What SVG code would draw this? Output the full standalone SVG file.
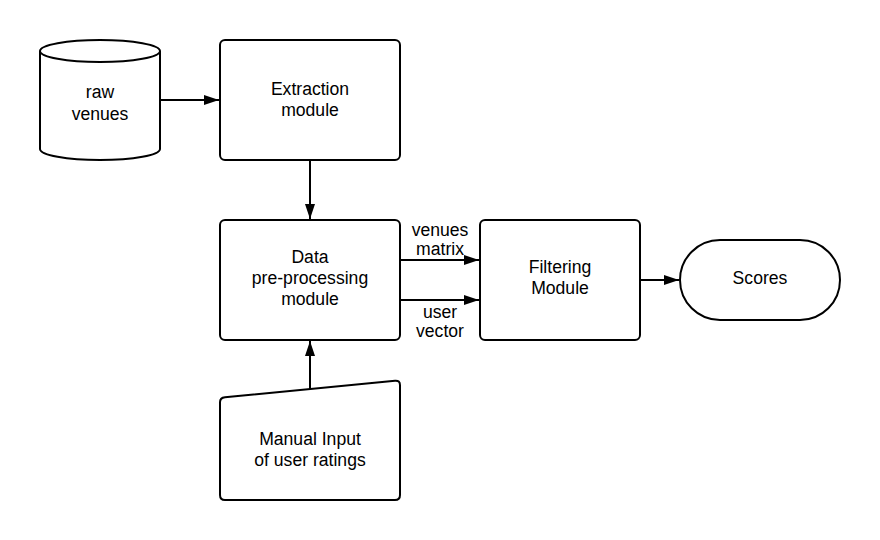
<svg xmlns="http://www.w3.org/2000/svg" width="880" height="540" viewBox="0 0 880 540">
<defs>
<style>
.shape{fill:#fff;stroke:#000;stroke-width:2;}
.edge{fill:none;stroke:#000;stroke-width:2;}
text{font-family:"Liberation Sans",Arial,sans-serif;font-size:17.6px;fill:#000;text-anchor:middle;}
</style>
<marker id="arr" viewBox="0 0 15 10" refX="15" refY="5" markerWidth="15" markerHeight="10" markerUnits="userSpaceOnUse" orient="auto">
<path d="M0,0 L15,5 L0,10 z" fill="#000"/>
</marker>
</defs>
<rect width="880" height="540" fill="#fff"/>
<g id="connectors">
<path class="edge" d="M160,100 H219" marker-end="url(#arr)"/>
<path class="edge" d="M310,160 V219" marker-end="url(#arr)"/>
<path class="edge" d="M400,260 H479" marker-end="url(#arr)"/>
<path class="edge" d="M400,300 H479" marker-end="url(#arr)"/>
<path class="edge" d="M640,280 H679" marker-end="url(#arr)"/>
<path class="edge" d="M310,389 V341" marker-end="url(#arr)"/>
<text x="440" y="236">venues</text>
<text x="440" y="255">matrix</text>
<text x="440" y="318">user</text>
<text x="440" y="337">vector</text>
</g>
<g id="raw-venues">
<path class="shape" d="M40,51 A60,11 0 0 1 160,51 V149 A60,11 0 0 1 40,149 Z"/>
<path class="edge" d="M40,51 A60,11 0 0 0 160,51"/>
<text x="100" y="98">raw</text>
<text x="100" y="120">venues</text>
</g>
<g id="extraction">
<rect class="shape" x="220" y="40" width="180" height="120" rx="5"/>
<text x="310" y="95">Extraction</text>
<text x="310" y="116">module</text>
</g>
<g id="preprocessing">
<rect class="shape" x="220" y="220" width="180" height="120" rx="5"/>
<text x="310" y="263">Data</text>
<text x="310" y="284">pre-processing</text>
<text x="310" y="305">module</text>
</g>
<g id="filtering">
<rect class="shape" x="480" y="220" width="160" height="120" rx="5"/>
<text x="560" y="273">Filtering</text>
<text x="560" y="294">Module</text>
</g>
<g id="scores">
<rect class="shape" x="680" y="240" width="160" height="80" rx="40"/>
<text x="760" y="284">Scores</text>
</g>
<g id="manual-input">
<path class="shape" d="M225,397.3 L395,380.7 Q400,380.2 400,385.2 V495 Q400,500 395,500 H225 Q220,500 220,495 V402.3 Q220,397.8 225,397.3 Z"/>
<text x="310" y="445">Manual Input</text>
<text x="310" y="466">of user ratings</text>
</g>
</svg>
